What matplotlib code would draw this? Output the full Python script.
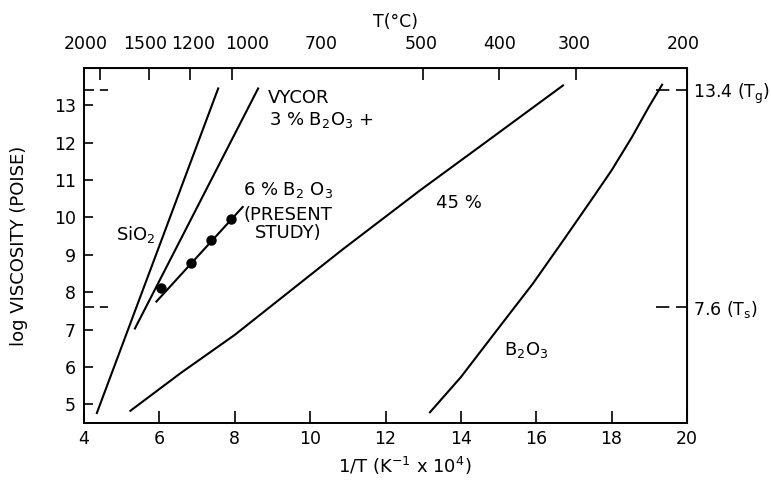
import matplotlib
matplotlib.use("Agg")
import matplotlib.pyplot as plt
from matplotlib.transforms import blended_transform_factory

# values: x = 1/T (K^-1 x 10^4), y = log viscosity (poise)
sio2_x = [4.34, 7.56]
sio2_y = [4.77, 13.45]
vycor_x = [5.35, 8.62]
vycor_y = [7.03, 13.45]
b6_line_x = [5.92, 8.21]
b6_line_y = [7.75, 10.28]
b6_pts_x = [6.03, 6.85, 7.38, 7.90]
b6_pts_y = [8.12, 8.79, 9.41, 9.95]
b45_x = [5.23, 6.58, 8.00, 10.83, 12.91, 14.36, 16.71]
b45_y = [4.83, 5.85, 6.86, 9.12, 10.72, 11.79, 13.53]
b2o3_x = [13.18, 14.00, 15.09, 15.91, 16.72, 17.45, 18.00, 18.54, 18.99, 19.34]
b2o3_y = [4.79, 5.73, 7.16, 8.23, 9.39, 10.45, 11.26, 12.15, 12.96, 13.55]

x_ticks = [4, 6, 8, 10, 12, 14, 16, 18, 20]
y_ticks = [5, 6, 7, 8, 9, 10, 11, 12, 13]
# top scale (T in deg C): tick marks and label positions as drawn on the original
top_tick_pos = [4.42, 5.72, 6.82, 7.93, 10.3, 13.0, 15.0, 17.05]
top_label_pos = [4.05, 5.61, 6.90, 8.33, 10.3, 12.95, 15.03, 17.0, 19.9]
top_labels = ["2000", "1500", "1200", "1000", "700", "500", "400", "300", "200"]
# reference viscosities marked on the right
ref_levels = [13.4, 7.6]
ref_labels = ["13.4 (T$_\\mathregular{g}$)", "7.6 (T$_\\mathregular{s}$)"]

fig, ax = plt.subplots(figsize=(7.71, 4.92), dpi=100)
fig.subplots_adjust(left=0.109, right=0.891, bottom=0.140, top=0.862)

lw = 1.5
ax.plot(sio2_x, sio2_y, color="k", lw=lw)
ax.plot(vycor_x, vycor_y, color="k", lw=lw)
ax.plot(b6_line_x, b6_line_y, color="k", lw=lw)
ax.plot(b6_pts_x, b6_pts_y, "o", color="k", ms=6.5)
ax.plot(b45_x, b45_y, color="k", lw=lw)
ax.plot(b2o3_x, b2o3_y, color="k", lw=lw)

ax.set_xlim(4, 20)
ax.set_ylim(4.5, 14.0)
ax.set_xticks(x_ticks)
ax.set_yticks(y_ticks)
ax.tick_params(axis="x", direction="in", length=9, width=1.2, pad=5, labelsize=12.5)
ax.tick_params(axis="y", direction="in", length=6.5, width=1.2, pad=6, labelsize=12.5)
for s in ax.spines.values():
    s.set_linewidth(1.4)

# top temperature axis: marks as minor ticks, labels as major ticks
top = ax.secondary_xaxis("top")
top.set_xticks(top_tick_pos, minor=True)
top.set_xticks(top_label_pos, labels=top_labels)
top.tick_params(which="minor", direction="in", length=8.5, width=1.2)
top.tick_params(which="major", length=0, pad=11, labelsize=12.5)
top.set_xlabel("T(°C)", fontsize=12.5)
top.xaxis.set_label_coords(0.516, 1.115, transform=ax.transAxes)

# right reference labels
right = ax.secondary_yaxis("right")
right.set_yticks(ref_levels, labels=ref_labels)
right.tick_params(length=0, pad=4, labelsize=12.5)

# dashed marks at the reference levels on both sides
trans = blended_transform_factory(ax.transAxes, ax.transData)
for lv in ref_levels:
    ax.plot([0.0, 0.04], [lv, lv], transform=trans, color="k", lw=1.2,
            ls=(0, (6, 3.5)), clip_on=False)
    ax.plot([0.948, 1.0], [lv, lv], transform=trans, color="k", lw=1.2,
            ls=(0, (8, 4)), clip_on=False)

# curve labels
fs = 13
ax.text(4.84, 9.39, "SiO$_2$", fontsize=fs)
ax.text(8.88, 13.06, "VYCOR", fontsize=fs)
ax.text(8.90, 12.46, "3 % B$_2$O$_3$ +", fontsize=fs)
ax.text(8.22, 10.59, "6 % B$_2$ O$_3$", fontsize=fs)
ax.text(8.22, 9.94, "(PRESENT", fontsize=fs)
ax.text(8.54, 9.45, "STUDY)", fontsize=fs)
ax.text(13.35, 10.25, "45 %", fontsize=fs)
ax.text(15.14, 6.31, "B$_2$O$_3$", fontsize=fs)

ax.set_xlabel("1/T (K$^{-1}$ x 10$^4$)", fontsize=13)
ax.xaxis.set_label_coords(0.532, -0.09)
ax.set_ylabel("log VISCOSITY (POISE)", fontsize=13)
ax.yaxis.set_label_coords(-0.093, 0.5)

fig.savefig("out.png", dpi=100)
